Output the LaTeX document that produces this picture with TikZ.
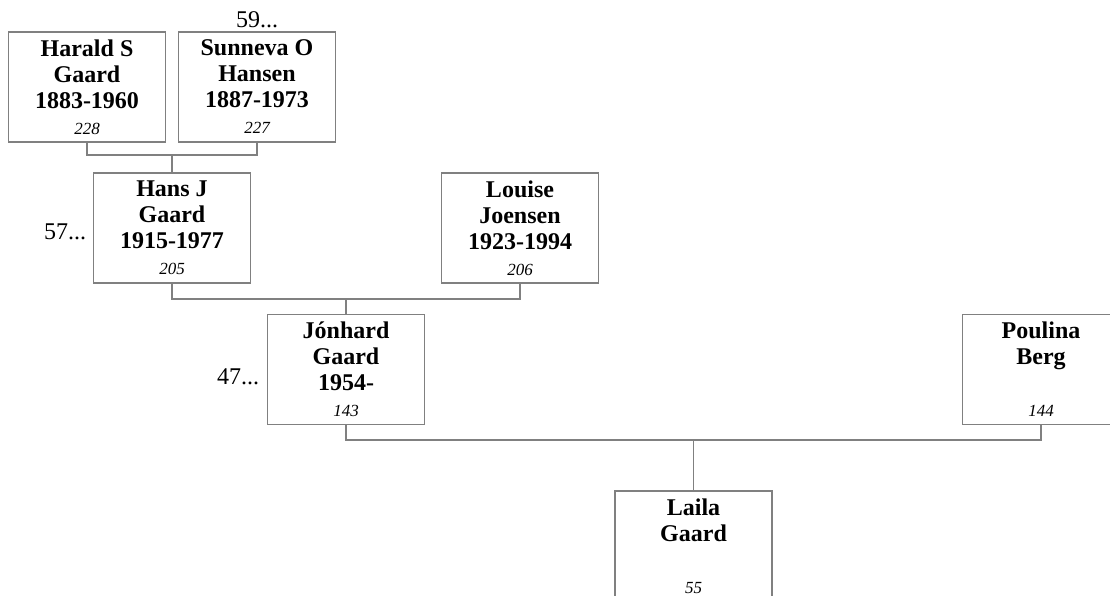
\documentclass[tikz,border=0pt]{standalone}
\usepackage{fontspec}
\setmainfont{Liberation Serif}
\definecolor{boxgray}{RGB}{128,128,128}
\tikzset{
  person/.style={draw=boxgray, line width=1.3pt, minimum width=157pt, minimum height=110pt,
    inner sep=0pt, align=center, font=\fontsize{24}{26}\selectfont\bfseries, text=black},
  link/.style={draw=boxgray, line width=1.3pt},
  more/.style={font=\fontsize{24}{26}\selectfont, text=black, inner sep=0pt}
}
\newcommand{\pnum}[1]{{\mdseries\itshape\fontsize{17}{26}\selectfont #1}}
\begin{document}
\begin{tikzpicture}[x=1pt,y=-1pt]
\clip (0,0) rectangle (1110,596);
\fill[white] (0,0) rectangle (1110,596);

\node[person] (harald) at (87,87) {Harald S\\Gaard\\1883-1960\\\pnum{228}};
\node[person] (sunneva) at (257,87) {Sunneva O\\Hansen\\1887-1973\\\pnum{227}};
\node[person] (hans) at (172,228) {Hans J\\Gaard\\1915-1977\\\pnum{205}};
\node[person] (louise) at (520,228) {Louise\\Joensen\\1923-1994\\\pnum{206}};
\node[person] (jonhard) at (346,369.5) {Jónhard\\Gaard\\1954-\\\pnum{143}};
\node[person] (poulina) at (1041,369.5) {Poulina\\Berg\\\mbox{}\\\pnum{144}};
\node[person] (laila) at (693.5,546) {Laila\\Gaard\\\mbox{}\\\pnum{55}};

\node[more] (m59) at (257,20) {59...};
\node[more] (m57) at (65,232) {57...};
\node[more] (m47) at (238,377) {47...};

\coordinate (f1) at (172,155);
\coordinate (f2) at (346,299);
\coordinate (f3) at (693.5,440);

\draw[link] (harald.south) -- (harald.south |- f1) -- (sunneva.south |- f1) -- (sunneva.south);
\draw[link] (f1) -- (hans.north);
\draw[link] (hans.south) -- (hans.south |- f2) -- (louise.south |- f2) -- (louise.south);
\draw[link] (f2) -- (jonhard.north);
\draw[link] (jonhard.south) -- (jonhard.south |- f3) -- (poulina.south |- f3) -- (poulina.south);
\draw[link] (f3) -- (laila.north);
\end{tikzpicture}
\end{document}
